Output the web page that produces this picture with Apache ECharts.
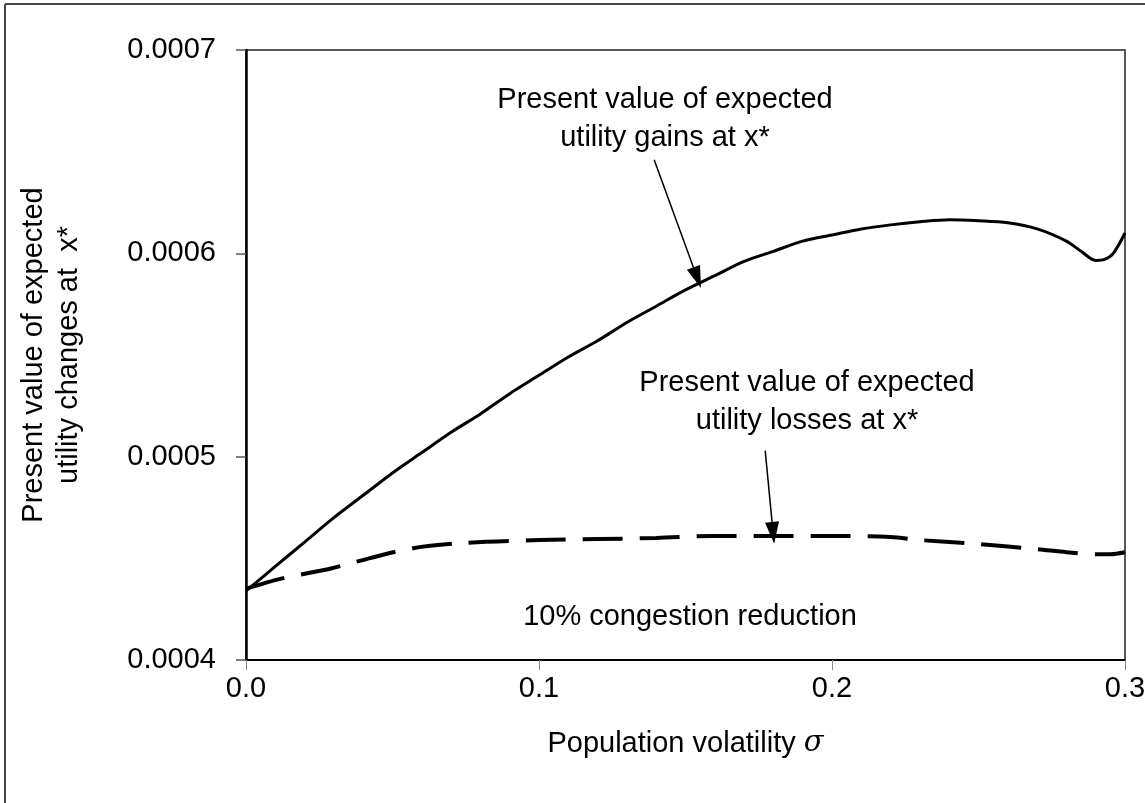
<!DOCTYPE html>
<html>
<head>
<meta charset="utf-8">
<script src="https://cdn.jsdelivr.net/npm/echarts@6/dist/echarts.min.js"></script>
<style>html,body{margin:0;padding:0;background:#fff}#c{width:1145px;height:803px}</style>
</head>
<body>
<div id="c"></div>
<script>
var xTicks = [0.0, 0.1, 0.2, 0.3];
var yTicks = [0.0004, 0.0005, 0.0006, 0.0007];
var gainsSigma = [0, 0.01, 0.02, 0.03, 0.04, 0.05, 0.06, 0.07, 0.08, 0.09, 0.10, 0.11, 0.12, 0.13, 0.14, 0.15, 0.16, 0.17, 0.18, 0.19, 0.20, 0.21, 0.22, 0.23, 0.24, 0.25, 0.26, 0.27, 0.28, 0.285, 0.29, 0.293, 0.296, 0.30];
var gainsValue = [0.000434, 0.000446, 0.000458, 0.000470, 0.000481, 0.000492, 0.000502, 0.000512, 0.000521, 0.000531, 0.000540, 0.000549, 0.000557, 0.000566, 0.000574, 0.000582, 0.000589, 0.000596, 0.000601, 0.000606, 0.000609, 0.000612, 0.000614, 0.0006155, 0.0006165, 0.000616, 0.000615, 0.000612, 0.000606, 0.000601, 0.0005965, 0.000597, 0.0006, 0.00061];
var lossesSigma = [0, 0.012, 0.029, 0.042, 0.057, 0.074, 0.10, 0.12, 0.14, 0.16, 0.18, 0.20, 0.22, 0.23, 0.25, 0.27, 0.28, 0.29, 0.295, 0.30];
var lossesValue = [0.000435, 0.000440, 0.000445, 0.00045, 0.000455, 0.0004575, 0.000459, 0.0004595, 0.00046, 0.000461, 0.000461, 0.000461, 0.0004605, 0.000459, 0.000457, 0.0004545, 0.000453, 0.000452, 0.000452, 0.000453];
var gainsLabel = ['Present value of expected', 'utility gains at x*'];
var lossesLabel = ['Present value of expected', 'utility losses at x*'];
var noteLabel = '10% congestion reduction';
var gainsArrow = [[0.1393, 0.000646], [0.154, 0.000588]];
var lossesArrow = [[0.1772, 0.000503], [0.1799, 0.0004625]];

function pairs(xs, ys){ return xs.map(function(x,i){ return [x, ys[i]]; }); }

var FONT = '"Liberation Sans", Arial, sans-serif';
var FS = 29;
var chart = echarts.init(document.getElementById('c'), null, {renderer:'canvas'});
var arrowStyle = {color:'#000', width:1.5, type:'solid'};
chart.setOption({
  animation:false,
  backgroundColor:'#fff',
  grid:{left:246, top:50, right:20, bottom:143, show:true, borderColor:'#222', borderWidth:1.5, backgroundColor:'transparent', outerBoundsMode:'none', containLabel:false},
  xAxis:{
    type:'value', min:xTicks[0], max:xTicks[xTicks.length-1], interval:0.1,
    name:'{a|Population volatility }{i|σ}', nameLocation:'middle', nameGap:69,
    nameTextStyle:{rich:{a:{fontFamily:FONT, fontSize:FS, color:'#000'}, i:{fontFamily:'"DejaVu Serif", serif', fontStyle:'italic', fontSize:FS, color:'#000'}}},
    axisLine:{show:true, lineStyle:{color:'#000', width:2}},
    axisTick:{show:true, length:10, inside:false, lineStyle:{color:'#888', width:1}},
    axisLabel:{fontFamily:FONT, fontSize:FS, color:'#000', margin:14, formatter:function(v){return v.toFixed(1);}},
    splitLine:{show:false}
  },
  yAxis:{
    type:'value', min:yTicks[0], max:yTicks[yTicks.length-1], interval:0.0001,
    name:'Present value of expected\nutility changes at  x*', nameLocation:'middle', nameGap:160, nameRotate:90,
    nameTextStyle:{fontFamily:FONT, fontSize:FS, color:'#000', lineHeight:35},
    axisLine:{show:true, lineStyle:{color:'#000', width:2.5}},
    axisTick:{show:true, length:10, lineStyle:{color:'#555', width:1.5}},
    axisLabel:{fontFamily:FONT, fontSize:FS, color:'#000', margin:30, formatter:function(v){return v.toFixed(4);}},
    splitLine:{show:false}
  },
  series:[
    {type:'line', name:'gains', data:pairs(gainsSigma, gainsValue), showSymbol:false, smooth:0.3,
     lineStyle:{color:'#000', width:3},
     markLine:{silent:true, symbol:['none','triangle'], symbolSize:[14,22], label:{show:false}, lineStyle:arrowStyle,
       data:[[{coord:gainsArrow[0]},{coord:gainsArrow[1]}]]}},
    {type:'line', name:'losses', data:pairs(lossesSigma, lossesValue), showSymbol:false, smooth:0.3,
     lineStyle:{color:'#000', width:4, type:[40,17]},
     markLine:{silent:true, symbol:['none','triangle'], symbolSize:[14,22], label:{show:false}, lineStyle:arrowStyle,
       data:[[{coord:lossesArrow[0]},{coord:lossesArrow[1]}]]}}
  ],
  graphic:[
    {type:'line', shape:{x1:5, y1:4, x2:1145, y2:4}, style:{stroke:'#444', lineWidth:2}},
    {type:'line', shape:{x1:5, y1:4, x2:5, y2:803}, style:{stroke:'#444', lineWidth:2}},
    {type:'text', x:665, y:81, style:{text:gainsLabel.join('\n'), fontFamily:FONT, fontSize:FS, fill:'#000', align:'center', verticalAlign:'top', lineHeight:38}},
    {type:'text', x:807, y:364, style:{text:lossesLabel.join('\n'), fontFamily:FONT, fontSize:FS, fill:'#000', align:'center', verticalAlign:'top', lineHeight:38}},
    {type:'text', x:690, y:617, style:{text:noteLabel, fontFamily:FONT, fontSize:FS, fill:'#000', align:'center', verticalAlign:'middle'}}
  ]
});
</script>
</body>
</html>
